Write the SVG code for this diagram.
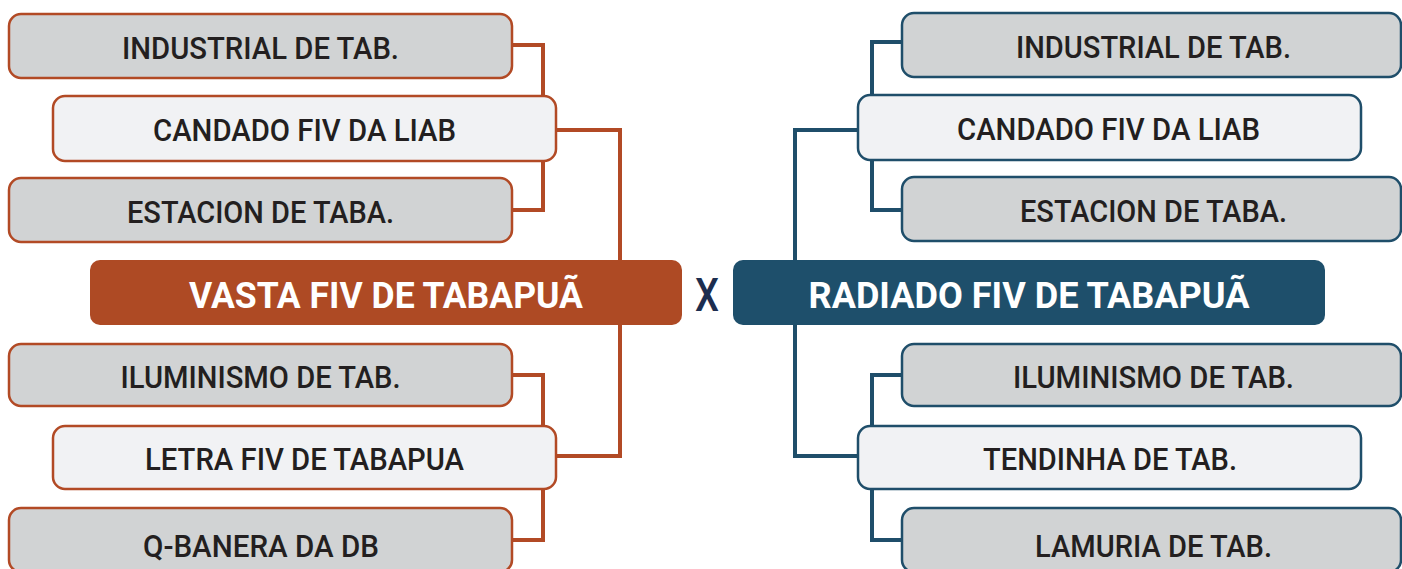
<svg xmlns="http://www.w3.org/2000/svg" width="1402" height="569" viewBox="0 0 1402 569">
<style>
.o{stroke:#b24a25}
.b{stroke:#1f4e6a}
.g{fill:#d1d3d4;stroke-width:2.5}
.l{fill:#f1f2f4;stroke-width:2.5}
.t{font-family:Roboto,"Liberation Sans",sans-serif;font-weight:500;font-size:31px;fill:#231f20;text-anchor:middle}
.h{font-family:Roboto,"Liberation Sans",sans-serif;font-weight:700;font-size:37px;fill:#ffffff;text-anchor:middle}
.c{fill:none;stroke-width:4}
</style>
<rect width="1402" height="569" fill="#ffffff"/>
<g id="connectors">
<polyline class="c o" points="512,45 543,45 543,210 512,210"/>
<polyline class="c o" points="556,130 620,130 620,456 556,456"/>
<polyline class="c o" points="512,375 543,375 543,540 512,540"/>
<polyline class="c b" points="902,42 872,42 872,210 902,210"/>
<polyline class="c b" points="858,130 795,130 795,456 858,456"/>
<polyline class="c b" points="902,375 872,375 872,540 902,540"/>
</g>
<g id="l-industrial"><rect class="g o" x="9" y="14" width="503" height="64" rx="12"/><text class="t" x="260.5" y="58.5" textLength="277" lengthAdjust="spacingAndGlyphs">INDUSTRIAL DE TAB.</text></g>
<g id="l-candado"><rect class="l o" x="53" y="96" width="503" height="65" rx="12"/><text class="t" x="304.5" y="141" textLength="303" lengthAdjust="spacingAndGlyphs">CANDADO FIV DA LIAB</text></g>
<g id="l-estacion"><rect class="g o" x="9" y="178" width="503" height="64" rx="12"/><text class="t" x="260.5" y="222.5" textLength="267" lengthAdjust="spacingAndGlyphs">ESTACION DE TABA.</text></g>
<g id="l-main"><rect x="90" y="260" width="592" height="65" rx="10" fill="#ae4a24"/><text class="h" x="386" y="307.5" textLength="394" lengthAdjust="spacingAndGlyphs">VASTA FIV DE TABAPUÃ</text></g>
<g id="l-iluminismo"><rect class="g o" x="9" y="344" width="503" height="62" rx="12"/><text class="t" x="260.5" y="387.5" textLength="280" lengthAdjust="spacingAndGlyphs">ILUMINISMO DE TAB.</text></g>
<g id="l-letra"><rect class="l o" x="53" y="426" width="503" height="63" rx="12"/><text class="t" x="304.5" y="469.5" textLength="319" lengthAdjust="spacingAndGlyphs">LETRA FIV DE TABAPUA</text></g>
<g id="l-qbanera"><rect class="g o" x="9" y="508" width="503" height="64" rx="12"/><text class="t" x="261" y="556.5" textLength="236" lengthAdjust="spacingAndGlyphs">Q-BANERA DA DB</text></g>
<g id="versus"><text x="707" y="311" font-family="Roboto,'Liberation Sans',sans-serif" font-size="47" font-weight="500" fill="#1c2d4f" text-anchor="middle" textLength="24" lengthAdjust="spacingAndGlyphs">X</text></g>
<g id="r-main"><rect x="733" y="260" width="592" height="65" rx="10" fill="#1e4f6b"/><text class="h" x="1029" y="307.5" textLength="441" lengthAdjust="spacingAndGlyphs">RADIADO FIV DE TABAPUÃ</text></g>
<g id="r-industrial"><rect class="g b" x="902" y="13" width="499" height="64" rx="12"/><text class="t" x="1153.5" y="57.5" textLength="275" lengthAdjust="spacingAndGlyphs">INDUSTRIAL DE TAB.</text></g>
<g id="r-candado"><rect class="l b" x="858" y="95" width="503" height="65" rx="12"/><text class="t" x="1108.5" y="140" textLength="303" lengthAdjust="spacingAndGlyphs">CANDADO FIV DA LIAB</text></g>
<g id="r-estacion"><rect class="g b" x="902" y="177" width="499" height="64" rx="12"/><text class="t" x="1153.5" y="221.5" textLength="267" lengthAdjust="spacingAndGlyphs">ESTACION DE TABA.</text></g>
<g id="r-iluminismo"><rect class="g b" x="902" y="344" width="499" height="62" rx="12"/><text class="t" x="1153.5" y="387.5" textLength="281" lengthAdjust="spacingAndGlyphs">ILUMINISMO DE TAB.</text></g>
<g id="r-tendinha"><rect class="l b" x="858" y="426" width="503" height="63" rx="12"/><text class="t" x="1110" y="469.5" textLength="254" lengthAdjust="spacingAndGlyphs">TENDINHA DE TAB.</text></g>
<g id="r-lamuria"><rect class="g b" x="902" y="508" width="499" height="64" rx="12"/><text class="t" x="1153.5" y="556.5" textLength="237" lengthAdjust="spacingAndGlyphs">LAMURIA DE TAB.</text></g>
</svg>
